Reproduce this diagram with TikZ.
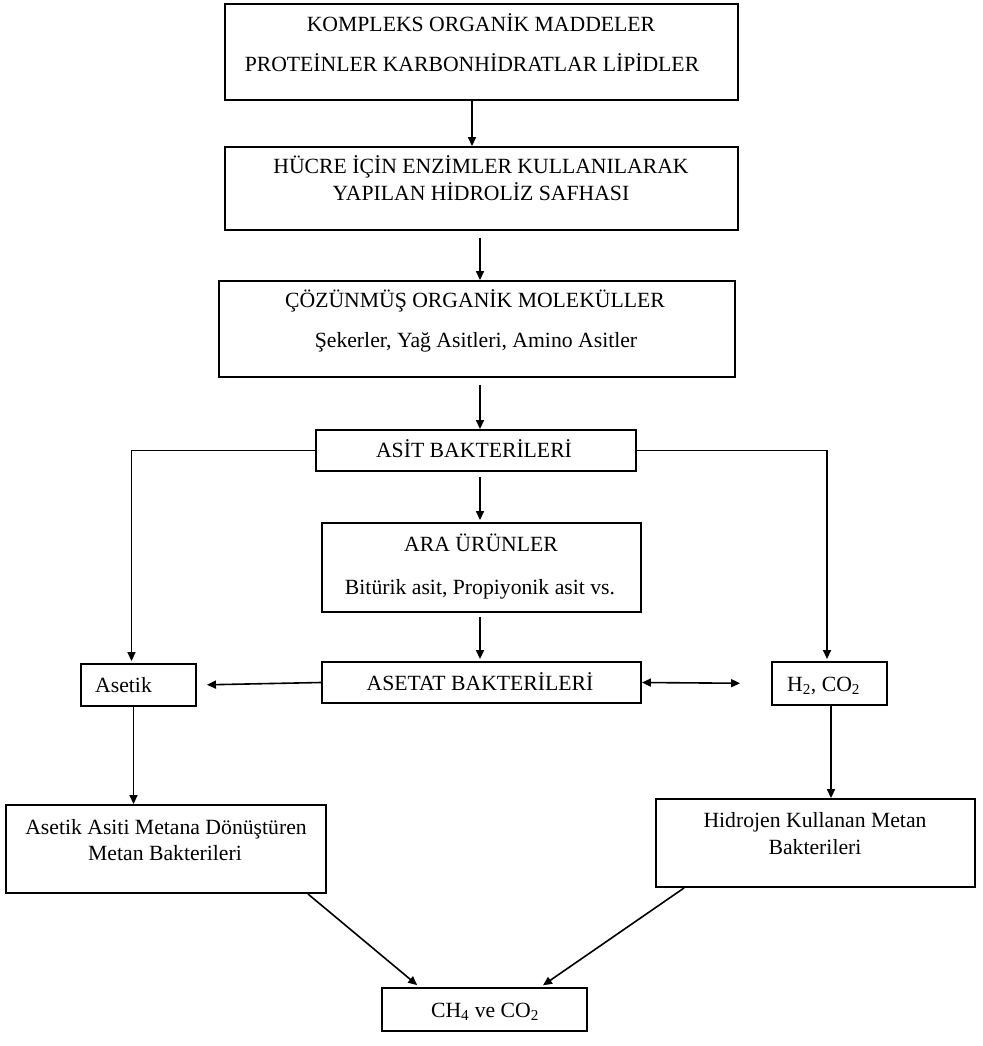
\documentclass[tikz,border=0pt]{standalone}
\usepackage{fontspec}
\setmainfont{Liberation Serif}
\usetikzlibrary{arrows.meta}

\begin{document}
\begin{tikzpicture}[x=1pt,y=-1pt,
    box/.style={draw,line width=1.9pt,inner sep=0pt},
    txt/.style={inner sep=0pt,text height=14pt,text depth=0pt,
      font=\fontsize{21.7}{26}\selectfont},
    arr/.style={line width=1.6pt,-{Triangle[length=9pt,width=8pt]}},
    both/.style={line width=1.6pt,{Triangle[length=9pt,width=8pt]}-{Triangle[length=9pt,width=8pt]}}]
  \useasboundingbox (0,0) rectangle (982,1046);
  \coordinate (mid) at (480,0);
  % boxes
  \node[box,minimum width=513pt,minimum height=96pt] (kompleks) at (481.5,52) {};
  \node[box,minimum width=513pt,minimum height=83pt] (hidroliz) at (481.5,188.5) {};
  \node[box,minimum width=516pt,minimum height=96pt] (cozunmus) at (477,329) {};
  \node[box,minimum width=320pt,minimum height=41pt] (asit) at (476,450.5) {};
  \node[box,minimum width=319pt,minimum height=89pt] (ara) at (481.5,567.5) {};
  \node[box,minimum width=319pt,minimum height=41pt] (asetat) at (481.5,682.5) {};
  \node[box,minimum width=115pt,minimum height=42pt] (asetik) at (138.5,685) {};
  \node[box,minimum width=115pt,minimum height=43pt] (h2) at (829.5,683.5) {};
  \node[box,minimum width=320pt,minimum height=88pt] (metanA) at (166,849) {};
  \node[box,minimum width=319pt,minimum height=88pt] (metanH) at (815.5,843) {};
  \node[box,minimum width=205pt,minimum height=43pt] (ch4) at (484.5,1009.5) {};
  % texts
  \node[txt] (kompleks-1) at (481,25) {KOMPLEKS ORGANİK MADDELER};
  \node[txt] (kompleks-2) at (472,65) {PROTEİNLER KARBONHİDRATLAR LİPİDLER};
  \node[txt] (hidroliz-1) at (481,166) {HÜCRE İÇİN ENZİMLER KULLANILARAK};
  \node[txt] (hidroliz-2) at (481,193) {YAPILAN HİDROLİZ SAFHASI};
  \node[txt] (cozunmus-1) at (475,300) {ÇÖZÜNMÜŞ ORGANİK MOLEKÜLLER};
  \node[txt] (cozunmus-2) at (476,340) {Şekerler, Yağ Asitleri, Amino Asitler};
  \node[txt] (asit-1) at (474,450) {ASİT BAKTERİLERİ};
  \node[txt] (ara-1) at (481,544) {ARA ÜRÜNLER};
  \node[txt] (ara-2) at (480,587) {Bitürik asit, Propiyonik asit vs.};
  \node[txt] (asetat-1) at (480,683) {ASETAT BAKTERİLERİ};
  \node[txt,anchor=west] (asetik-1) at (95,685) {Asetik};
  \node[txt,anchor=west] (h2-1) at (787,684) {H\textsubscript{2}, CO\textsubscript{2}};
  \node[txt] (metanA-1) at (166,827) {Asetik Asiti Metana Dönüştüren};
  \node[txt] (metanA-2) at (165,853) {Metan Bakterileri};
  \node[txt] (metanH-1) at (815,820) {Hidrojen Kullanan Metan};
  \node[txt] (metanH-2) at (815,847) {Bakterileri};
  \node[txt] (ch4-1) at (485,1010) {CH\textsubscript{4} ve CO\textsubscript{2}};
  % connectors
  \begin{scope}
    \draw[arr] ([xshift=-9.5pt]kompleks.south) -- ([xshift=-9.5pt]hidroliz.north);
    \draw[arr,shorten <=7pt] (hidroliz.south -| mid) -- (cozunmus.north -| mid);
    \draw[arr,shorten <=7pt] (cozunmus.south -| mid) -- (asit.north -| mid);
    \draw[arr,shorten <=5pt,shorten >=2pt] (asit.south -| mid) -- (ara.north -| mid);
    \draw[arr,shorten <=4pt,shorten >=2pt] (ara.south -| mid) -- (asetat.north -| mid);
    \draw[arr,shorten >=2pt] (asit.west) -| ([xshift=-7pt]asetik.north);
    \draw[arr,shorten >=2pt] (asit.east) -| ([xshift=-2.5pt]h2.north);
    \draw[arr,shorten >=10pt] (asetat.west) -- (asetik.east);
    \draw[both,shorten >=31pt] (asetat.east) -- (h2.west);
    \draw[arr] ([xshift=-5pt]asetik.south) -- ([xshift=-5pt]asetik.south |- metanA.north);
    \draw[arr] ([xshift=1.5pt]h2.south) -- ([xshift=1.5pt]h2.south |- metanH.north);
    \draw[arr,shorten >=3pt] ([xshift=-19pt]metanA.south east) -- ([xshift=-65pt]ch4.north);
    \draw[arr,shorten >=3pt] ([xshift=29pt]metanH.south west) -- ([xshift=56pt]ch4.north);
  \end{scope}
\end{tikzpicture}
\end{document}
